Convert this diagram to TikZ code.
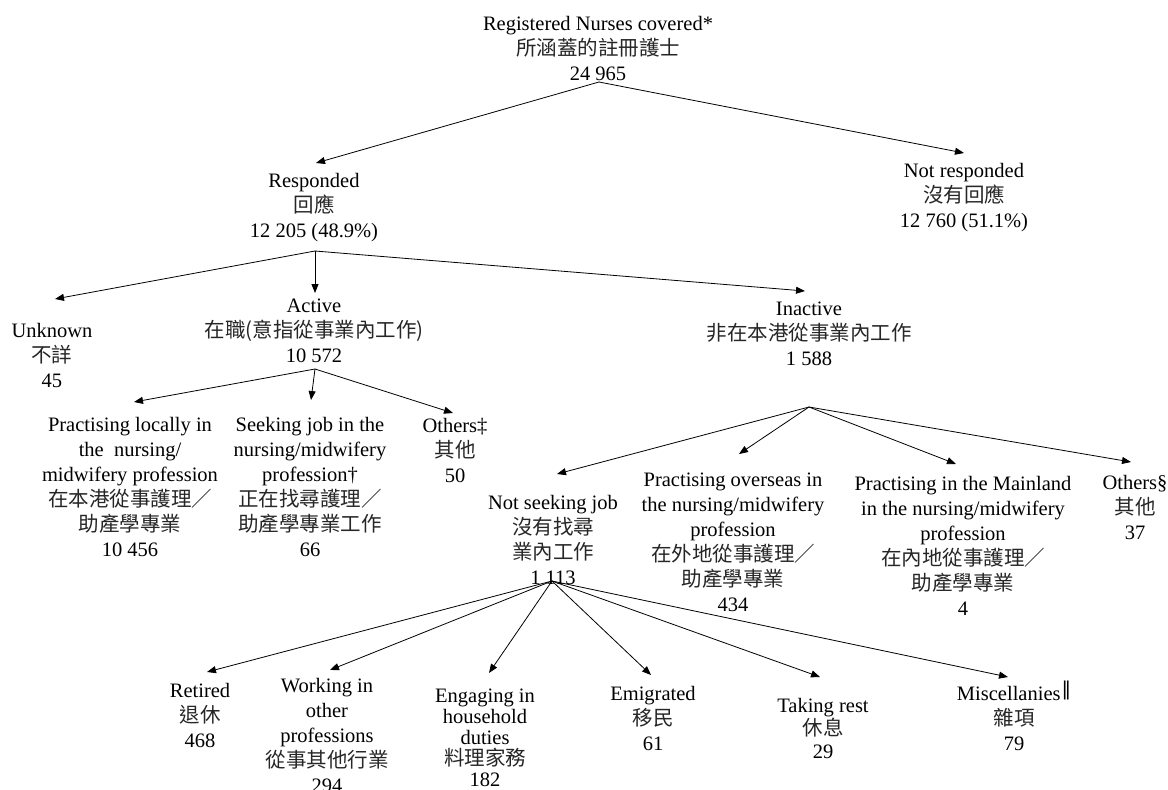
\documentclass[tikz,border=0pt]{standalone}
\usepackage{fontspec}
\setmainfont{Liberation Serif}
\newfontfamily\cjkfont{Noto Sans CJK TC}
\newfontfamily\symfont{DejaVu Sans}
\newcommand\zhtxt[1]{{\cjkfont\color{black!85}#1}}
\usetikzlibrary{arrows.meta}
\begin{document}
\begin{tikzpicture}[x=1pt,y=-1pt,
  lbl/.style={align=center, inner sep=0pt, font=\fontsize{20.5}{25}\selectfont},
  arr/.style={-{Triangle[length=9pt,width=7pt]}, line width=0.8pt}]
\useasboundingbox (0,0) rectangle (1168,790);

% nodes
\node[lbl] (top) at (598,48) {Registered Nurses covered*\\\zhtxt{所涵蓋的註冊護士}\\24 965};
\node[lbl] (resp) at (314,208) {Responded\\\zhtxt{回應}\\12 205 (48.9\%)};
\node[lbl] (nresp) at (964,198) {Not responded\\\zhtxt{沒有回應}\\12 760 (51.1\%)};
\node[lbl] (unk) at (52,355) {Unknown\\\zhtxt{不詳}\\45};
\node[lbl] (act) at (314,331) {Active\\\zhtxt{在職(意指從事業內工作)}\\10 572};
\node[lbl] (inact) at (809,334) {Inactive\\\zhtxt{非在本港從事業內工作}\\1 588};
\node[lbl] (local) at (130,487) {Practising locally in\\the\ \ nursing/\\midwifery profession\\\zhtxt{在本港從事護理／}\\\zhtxt{助產學專業}\\10 456};
\node[lbl] (seek) at (310,487) {Seeking job in the\\nursing/midwifery\\profession†\\\zhtxt{正在找尋護理／}\\\zhtxt{助產學專業工作}\\66};
\node[lbl] (oth1) at (455,450) {Others‡\\\zhtxt{其他}\\50};
\node[lbl] (nseek) at (553,540) {Not seeking job\\\zhtxt{沒有找尋}\\\zhtxt{業內工作}\\1 113};
\node[lbl] (over) at (733,542) {Practising overseas in\\the nursing/midwifery\\profession\\\zhtxt{在外地從事護理／}\\\zhtxt{助產學專業}\\434};
\node[lbl] (main) at (963,546) {Practising in the Mainland\\in the nursing/midwifery\\profession\\\zhtxt{在內地從事護理／}\\\zhtxt{助產學專業}\\4};
\node[lbl] (oth2) at (1135,507) {Others§\\\zhtxt{其他}\\37};
\node[lbl] (ret) at (200,715) {Retired\\\zhtxt{退休}\\468};
\node[lbl] (work) at (327,735) {Working in\\other\\professions\\\zhtxt{從事其他行業}\\294};
\node[lbl, font=\fontsize{20.5}{21}\selectfont] (eng) at (485,738) {Engaging in\\household\\duties\\\zhtxt{料理家務}\\182};
\node[lbl] (emig) at (653,718) {Emigrated\\\zhtxt{移民}\\61};
\node[lbl, font=\fontsize{20.5}{23}\selectfont] (rest) at (823,728) {Taking rest\\\zhtxt{休息}\\29};
\node[lbl] (misc) at (1014,716) {Miscellanies\raisebox{0.6ex}{\kern1pt\symfont\fontsize{19}{19}\selectfont ‖}\\\zhtxt{雜項}\\79};

% fan points
\coordinate (topF) at (599,82);
\coordinate (respF) at (315,251);
\coordinate (actF) at (315,369);
\coordinate (inactF) at (809,407);
\coordinate (nseekF) at (552,581);

% arrow tips
\coordinate (respT) at (316,163);
\coordinate (nrespT) at (964,153);
\coordinate (unkT) at (55,299);
\coordinate (actT) at (315,293);
\coordinate (inactT) at (805,291);
\coordinate (localT) at (134,402);
\coordinate (seekT) at (311,400);
\coordinate (oth1T) at (453,413);
\coordinate (nseekT) at (557,474);
\coordinate (overT) at (739,454);
\coordinate (mainT) at (956,464);
\coordinate (oth2T) at (1131,462);
\coordinate (retT) at (207,672);
\coordinate (workT) at (330,670);
\coordinate (engT) at (489,673);
\coordinate (emigT) at (651,675);
\coordinate (restT) at (820,677);
\coordinate (miscT) at (1008,677);

% connectors
\draw[arr] (topF) -- (respT);
\draw[arr] (topF) -- (nrespT);
\draw[arr] (respF) -- (unkT);
\draw[arr] (respF) -- (actT);
\draw[arr] (respF) -- (inactT);
\draw[arr] (actF) -- (localT);
\draw[arr] (actF) -- (seekT);
\draw[arr] (actF) -- (oth1T);
\draw[arr] (inactF) -- (nseekT);
\draw[arr] (inactF) -- (overT);
\draw[arr] (inactF) -- (mainT);
\draw[arr] (inactF) -- (oth2T);
\draw[arr] (nseekF) -- (retT);
\draw[arr] (nseekF) -- (workT);
\draw[arr] (nseekF) -- (engT);
\draw[arr] (nseekF) -- (emigT);
\draw[arr] (nseekF) -- (restT);
\draw[arr] (nseekF) -- (miscT);
\end{tikzpicture}
\end{document}
